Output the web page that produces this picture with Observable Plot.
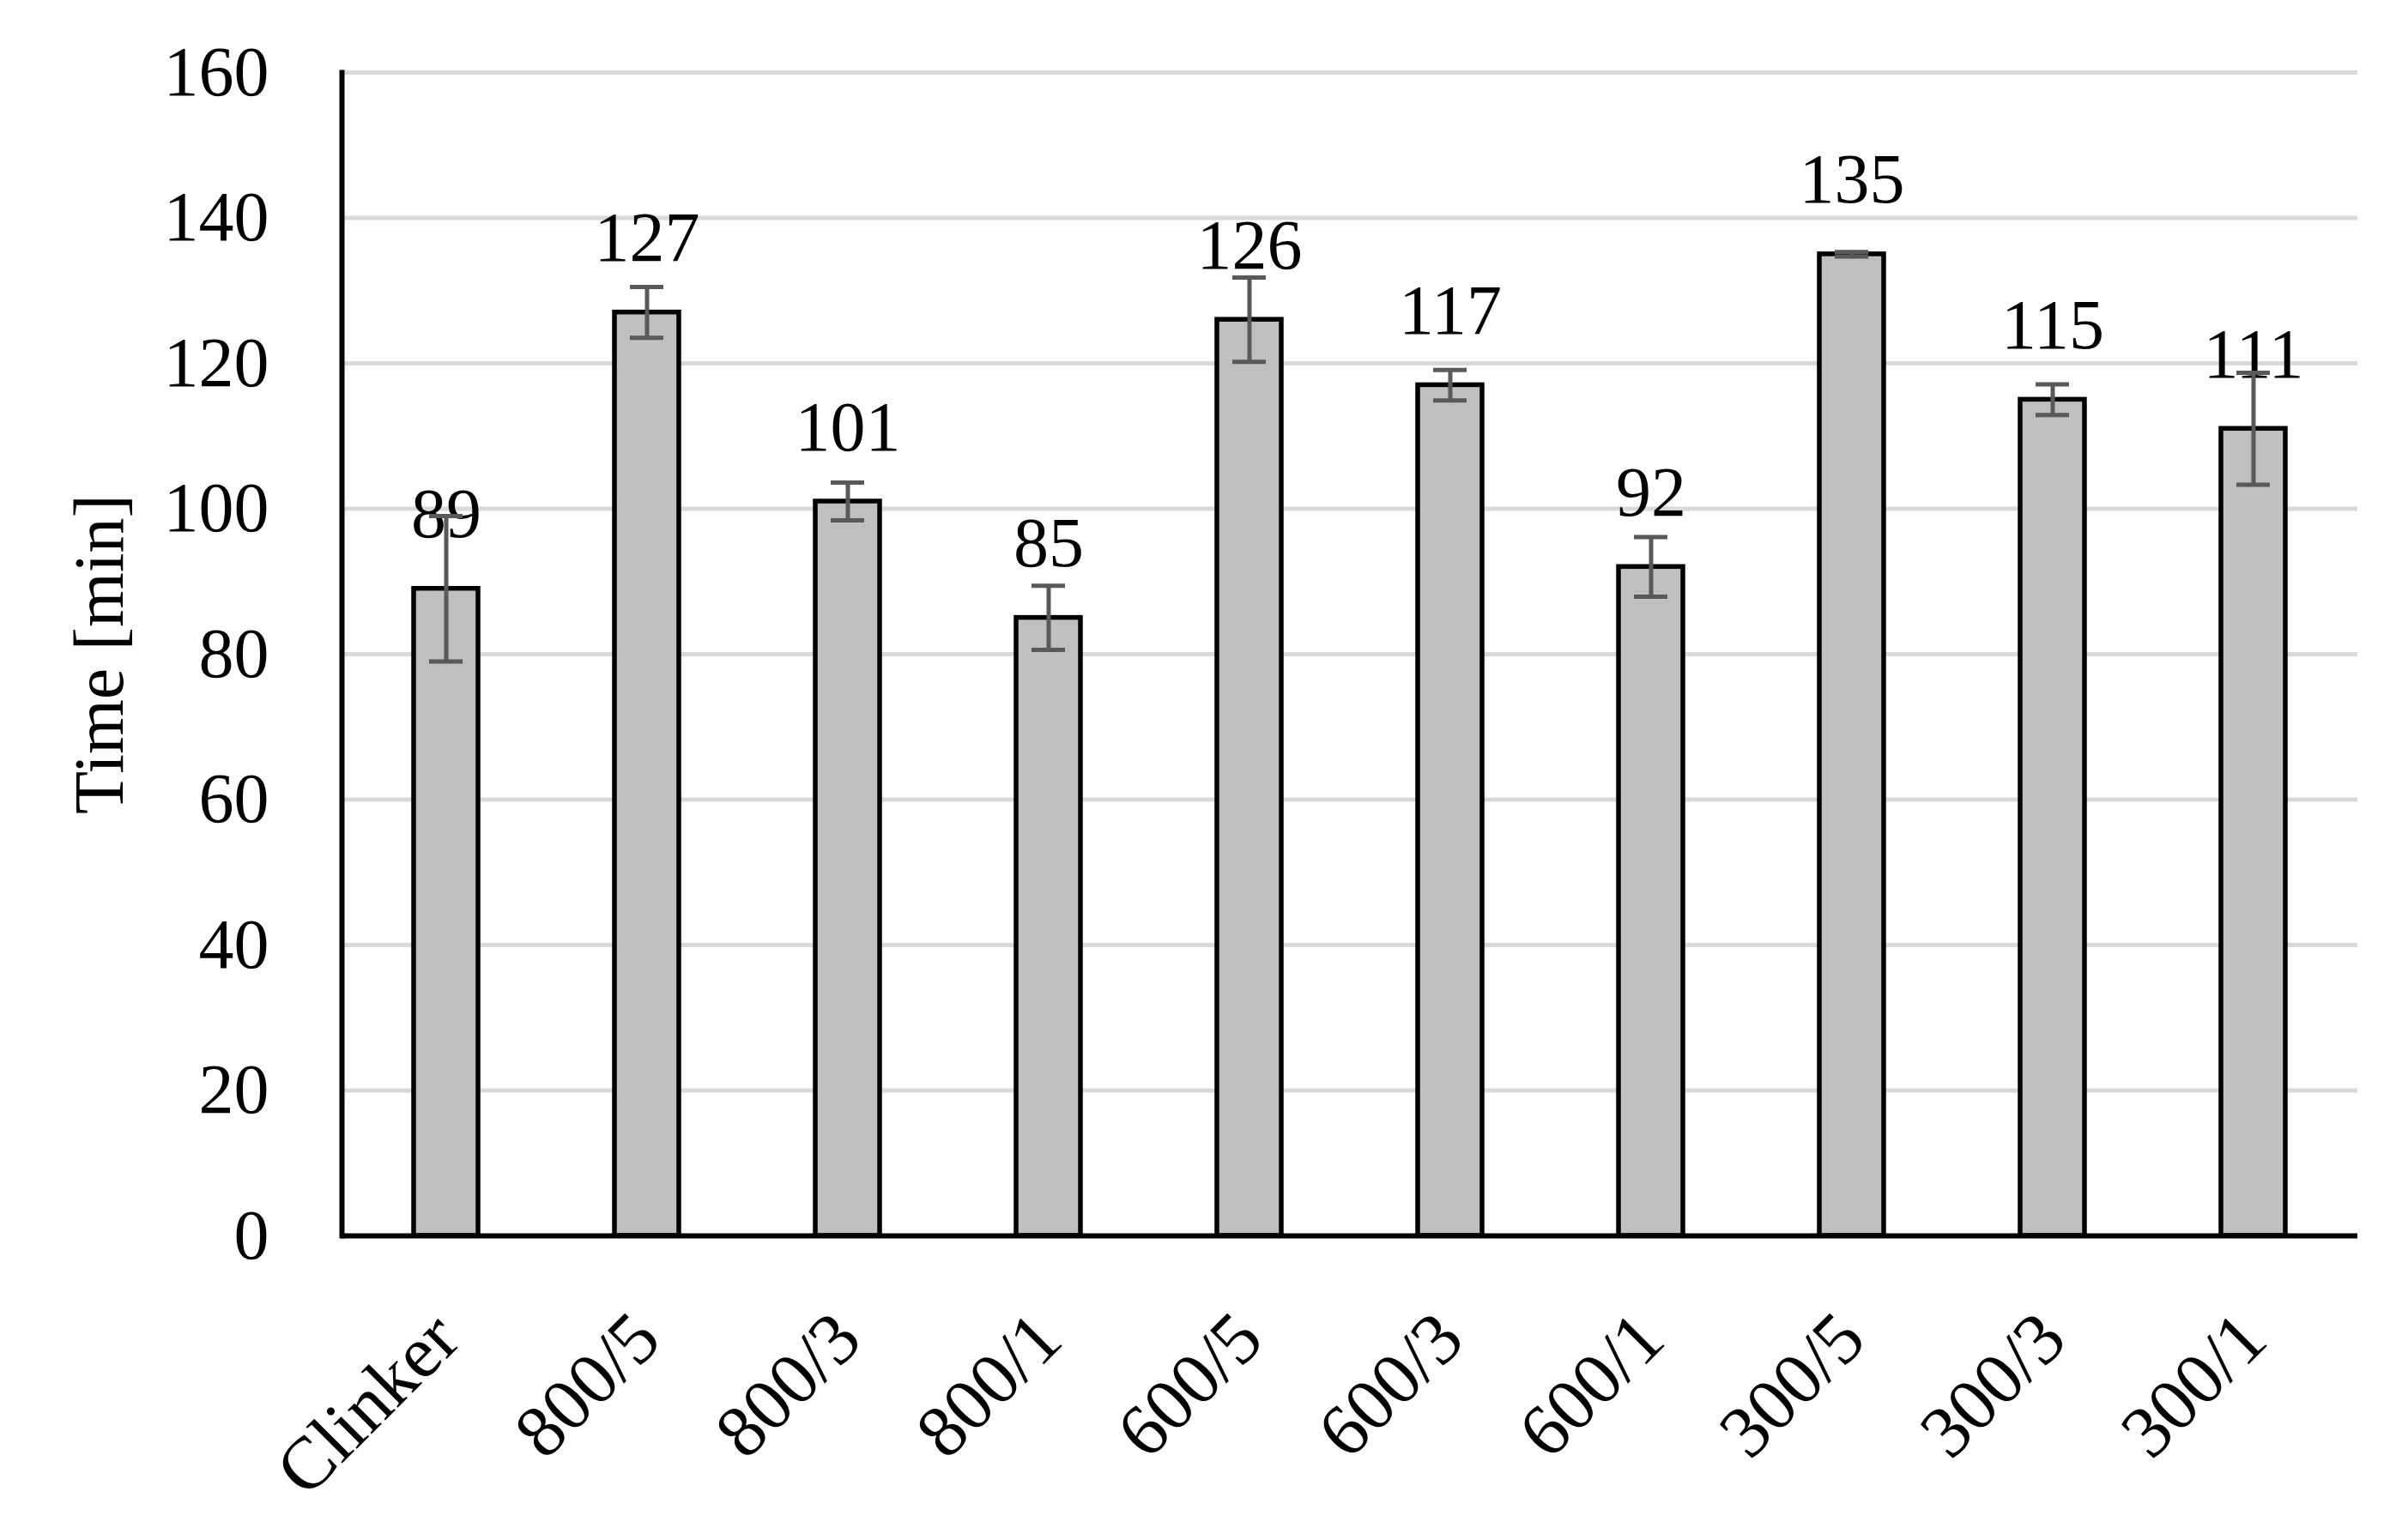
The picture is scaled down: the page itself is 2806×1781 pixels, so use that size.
<!DOCTYPE html>
<html>
<head>
<meta charset="utf-8">
<script src="https://cdn.jsdelivr.net/npm/d3@7"></script>
<script src="https://cdn.jsdelivr.net/npm/@observablehq/plot@0.6"></script>
<style>
  html, body { margin: 0; padding: 0; background: #fff; }
  svg { display: block; }
</style>
</head>
<body>
<div id="chart"></div>
<script>
const categories = ["Clinker","800/5","800/3","800/1","600/5","600/3","600/1","300/5","300/3","300/1"];
const means = [89, 127, 101, 85, 126, 117, 92, 135, 115, 111];
const errors = [10, 3.5, 2.6, 4.4, 5.8, 2.1, 4.1, 0.3, 2.1, 7.7];
const yTicks = [0, 20, 40, 60, 80, 100, 120, 140, 160];
const yTitle = ["Time [min]"];

const data = categories.map((c, i) => ({
  cat: c, mean: means[i], lo: means[i] - errors[i], hi: means[i] + errors[i]
}));

const FONT = "'Liberation Serif', 'DejaVu Serif', serif";
const FS = 82;

const chart = Plot.plot({
  width: 2806,
  height: 1781,
  marginLeft: 398,
  marginRight: 59,
  marginTop: 84,
  marginBottom: 341,
  style: { fontFamily: FONT, fontSize: FS + "px", color: "#000", background: "#fff" },
  x: { domain: categories, paddingInner: 0.68, paddingOuter: 0.34, label: null },
  y: { domain: [0, 160], label: null },
  marks: [
    Plot.gridY(yTicks, { stroke: "#d9d9d9", strokeOpacity: 1, strokeWidth: 5 }),
    Plot.barY(data, { x: "cat", y: "mean", fill: "#bfbfbf", stroke: "#000", strokeWidth: 5.5, inset: 0 }),
    Plot.text(data, { x: "cat", y: "mean", text: d => String(d.mean), dy: -60, lineAnchor: "bottom", fontSize: FS, fill: "#000" }),
    Plot.ruleX(data, { x: "cat", y1: "lo", y2: "hi", stroke: "#595959", strokeWidth: 5 }),
    Plot.tickY(data, { x: "cat", y: "lo", stroke: "#595959", strokeWidth: 5, insetLeft: 18, insetRight: 18 }),
    Plot.tickY(data, { x: "cat", y: "hi", stroke: "#595959", strokeWidth: 5, insetLeft: 18, insetRight: 18 }),
    Plot.axisY(yTicks, { tickSize: 0, tickPadding: 85, fontSize: FS, label: null }),
    Plot.text(yTitle, { frameAnchor: "left", rotate: -90, dx: -282, lineAnchor: "middle", textAnchor: "middle", fontSize: FS, fill: "#000" }),
    Plot.axisX({ tickSize: 0, tickPadding: 105, tickRotate: -45, fontSize: 86, label: null }),
    Plot.frame({ anchor: "left", stroke: "#000", strokeWidth: 6 }),
    Plot.ruleY([0], { stroke: "#000", strokeWidth: 6 })
  ]
});
document.getElementById("chart").appendChild(chart);
</script>
</body>
</html>
